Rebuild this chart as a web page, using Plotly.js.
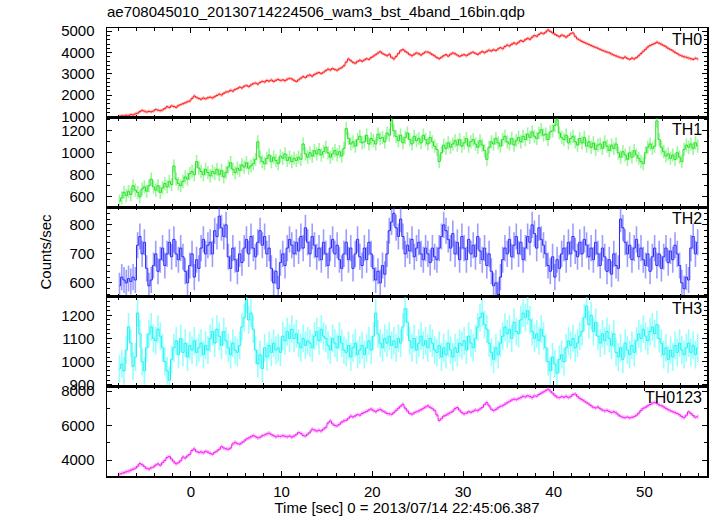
<!DOCTYPE html>
<html>
<head>
<meta charset="utf-8">
<script src="https://cdn.plot.ly/plotly-3.0.1.min.js"></script>
<style>html,body{margin:0;padding:0;background:#fff;}#chart{width:717px;height:516px;}</style>
</head>
<body>
<div id="chart"></div>
<script>
// ---- data (rates in counts/sec, 0.25 s bins) ----
const binStart = -7.875;
const binWidth = 0.25;
const bandNames = ["TH0", "TH1", "TH2", "TH3", "TH0123"];
const bandErrors = [80, 60, 45, 60, 120];

const th0 = [
1010,1040,1030,1060, 1050,1090,1070,1120, 1160,1230,1290,1250, 1210,1240,1220,1260,
1330,1300,1270,1310, 1380,1460,1420,1500, 1470,1430,1510,1560, 1600,1640,1690,1730,
1850,1960,1900,1840, 1810,1870,1830,1880, 1910,1870,1930,1990, 2050,2010,2090,2150,
2160,2230,2190,2270, 2310,2380,2340,2420, 2460,2400,2480,2540, 2570,2520,2600,2650,
2620,2690,2660,2710, 2640,2700,2740,2690, 2720,2680,2750,2790, 2760,2700,2640,2720,
2800,2870,2830,2910, 2950,2890,2970,3030, 3060,3010,3080,3150, 3220,3180,3250,3200,
3170,3240,3290,3380, 3550,3700,3620,3540, 3500,3580,3640,3590, 3650,3710,3680,3760,
3830,3900,3980,4040, 3960,3900,3850,3920, 3780,3700,3820,3950, 4080,4140,4060,3990,
3900,3850,3920,3980, 3940,3880,3960,4030, 4020,3980,3900,3840, 3760,3710,3780,3850,
3900,3830,3920,3980, 3940,3880,3820,3870, 3900,3850,3920,3980, 4020,3960,3910,3980,
4050,3990,4060,4110, 4070,4130,4090,4170, 4230,4180,4280,4350, 4310,4390,4450,4400,
4480,4560,4520,4600, 4670,4620,4720,4800, 4760,4850,4920,4880, 4960,5060,4990,4920,
4860,4800,4740,4820, 4780,4720,4800,4880, 4920,4760,4640,4580, 4520,4470,4420,4380,
4330,4280,4240,4200, 4150,4100,4060,4020, 3990,3930,3880,3840, 3800,3760,3730,3790,
3720,3680,3740,3700, 3760,3850,3950,4060, 4150,4260,4330,4380, 4420,4480,4440,4390,
4330,4270,4200,4140, 4080,4010,3950,3880, 3840,3800,3780,3740, 3710,3680,3730,3700
];

const th1 = [
560,590,640,610, 650,620,700,660, 640,600,670,690, 650,700,760,690,
660,700,640,680, 720,690,740,710, 880,760,720,700, 740,780,760,810,
830,800,920,860, 830,800,850,820, 790,830,810,850, 800,840,780,820,
870,910,850,820, 860,840,890,870, 910,860,880,900, 940,1100,960,920,
900,950,980,920, 960,930,900,970, 950,990,930,960, 920,950,930,960,
940,1080,990,960, 1000,970,1020,990, 1030,980,1010,1050, 1000,960,990,1020,
980,1010,970,1040, 1220,1130,1080,1100, 1060,1120,1150,1090, 1100,1160,1080,1130,
1110,1080,1170,1130, 1140,1100,1180,1160, 1300,1200,1150,1110, 1160,1090,1140,1180,
1120,1080,1150,1110, 1130,1090,1160,1120, 1080,1140,1100,1060, 1030,920,1000,1070,
1040,1090,1050,1080, 1110,1070,1120,1060, 1090,1130,1060,1100, 1120,1080,1050,1110,
1070,1020,940,1050, 1100,1080,1130,1090, 1060,1120,1150,1100, 1080,1130,1070,1110,
1140,1100,1150,1120, 1170,1140,1190,1150, 1130,1180,1210,1160, 1170,1120,1190,1200,
1250,1300,1180,1140, 1120,1160,1090,1130, 1150,1100,1070,1130, 1090,1140,1060,1100,
1050,1090,1030,1070, 1080,1040,1100,1060, 1020,1070,1040,1080, 1000,960,1010,980,
940,1000,960,1020, 980,950,920,900, 1000,1050,1080,1040, 1060,1290,1120,1050,
1010,970,990,950, 980,940,1000,960, 920,1030,1070,1050, 1080,1040,1090,1060
];

const th2 = [
590,620,610,600, 615,605,620,610, 730,760,700,740, 650,590,610,660,
700,640,680,720, 660,700,740,690, 750,700,680,720, 690,640,600,660,
700,620,680,650, 720,750,700,730, 740,700,780,760, 830,790,760,800,
690,650,720,680, 640,700,670,720, 750,700,760,720, 690,740,780,730,
760,700,720,650, 600,640,580,670, 700,660,720,750, 730,700,740,710,
760,720,790,740, 700,760,730,690, 720,680,740,700, 660,720,750,700,
730,680,650,700, 740,680,720,650, 700,750,690,660, 720,680,740,700,
650,610,640,600, 660,630,700,780, 810,840,790,760, 820,760,700,730,
710,750,690,720, 740,700,680,720, 700,670,720,690, 680,720,760,800,
780,750,720,770, 700,740,680,760, 720,680,750,700, 730,690,760,710,
680,720,660,700, 640,590,600,560, 620,680,720,700, 750,690,730,760,
700,740,680,720, 760,740,800,770, 720,790,750,730, 700,660,640,690,
620,680,650,700, 720,680,740,700, 760,710,690,740, 700,750,730,690,
720,680,740,700, 660,720,690,640, 680,630,700,660, 650,820,790,740,
700,730,680,720, 750,690,720,680, 660,700,640,690, 720,660,700,650,
690,720,670,710, 680,730,700,660, 600,580,620,610, 720,760,700,740
];

const th3 = [
970,990,960,1050, 1150,1080,980,1020, 1210,1120,1000,960, 1060,1120,1150,1100,
1090,1140,1110,1060, 1000,960,920,1010, 1060,1090,1030,1100, 1040,1080,1020,1070,
1050,1090,1040,1060, 1080,1030,1070,1050, 1100,1130,1080,1140, 1110,1070,1130,1090,
1060,1030,1080,1050, 1040,1070,1150,1190, 1270,1180,1210,1140, 1050,990,1030,970,
1060,1020,1070,1040, 1080,1050,1060,1040, 1110,1090,1130,1100, 1140,1100,1120,1080,
1060,1100,1070,1090, 1080,1060,1110,1130, 1090,1140,1110,1100, 1070,1050,1100,1080,
1060,1110,1080,1050, 1040,1070,1020,1060, 1080,1030,1050,1070, 1030,1060,1090,1050,
1110,1210,1120,1080, 1060,1100,1080,1110, 1070,1090,1060,1100, 1080,1150,1230,1170,
1090,1060,1100,1050, 1080,1110,1070,1090, 1060,1100,1080,1050, 1040,1070,1020,1060,
1030,1080,1050,1020, 1060,1040,1080,1070, 1090,1050,1110,1080, 1060,1100,1150,1190,
1210,1160,1140,1080, 1040,1010,1060,1030, 1080,1110,1150,1120, 1140,1100,1170,1130,
1120,1180,1210,1190, 1220,1180,1130,1100, 1120,1090,1140,1110, 1060,1000,960,1020,
990,950,1010,1030, 1000,1060,1090,1070, 1100,1060,1080,1110, 1130,1190,1240,1160,
1200,1130,1170,1110, 1080,1120,1090,1130, 1100,1070,1120,1040, 1020,1060,1010,1080,
1050,1030,1070,1040, 1090,1120,1100,1140, 1110,1090,1130,1150, 1120,1160,1100,1080,
1030,1060,1010,1050, 1020,1070,1040,1080, 1050,1030,1060,1080, 1040,1070,1030,1060
];

const th0123 = [
3180,3230,3270,3320, 3360,3420,3470,3530, 3650,3800,3740,3620, 3520,3480,3560,3600,
3720,3780,3700,3850, 3980,4150,4210,4060, 3900,3790,3850,3970, 4180,4120,4240,4330,
4560,4650,4500,4440, 4480,4420,4510,4460, 4390,4340,4450,4520, 4620,4780,4700,4660,
4620,4700,4940,5030, 4960,4920,5010,5100, 5220,5280,5350,5420, 5360,5290,5320,5410,
5460,5520,5560,5480, 5410,5350,5400,5370, 5420,5380,5350,5400, 5330,5390,5480,5600,
5550,5430,5390,5500, 5620,5790,5740,5680, 5730,5680,5800,5900, 6150,6270,6100,6000,
5980,6070,6200,6270, 6300,6420,6550,6500, 6560,6640,6600,6700, 6760,6820,6900,6960,
6870,6800,6890,6940, 6850,6790,6700,6680, 6650,6750,6880,7000, 7120,7230,7010,6850,
6700,6660,6740,6800, 6850,6920,7000,7080, 7140,7060,6980,6870, 6620,6300,6400,6550,
6600,6680,6750,6830, 6980,7050,6900,6750, 6680,6720,6810,6770, 6830,6900,6870,6960,
7050,7220,7330,7150, 6950,6870,6940,7030, 7110,7150,7240,7320, 7400,7480,7530,7500,
7560,7620,7700,7660, 7730,7680,7620,7720, 7700,7800,7880,7950, 8020,8110,8000,7880,
7750,7650,7620,7680, 7640,7700,7620,7680, 7800,7830,7690,7580, 7500,7420,7330,7250,
7150,7060,7020,7080, 6980,6900,6850,6880, 6820,6760,6800,6740, 6620,6540,6480,6460,
6500,6440,6480,6520, 6600,6720,6880,7000, 7060,7150,7220,7300, 7340,7280,7200,7150,
7080,7000,6920,6860, 6800,6750,6700,6620, 6520,6460,6600,6800, 6700,6580,6480,6520
];

const series = [th0, th1, th2, th3, th0123];
const time = th0.map((_, i) => binStart + i * binWidth);

// ---- styling ----
const FONT = "Liberation Sans, Arial, Helvetica, sans-serif";
const lineColors = ["#ff1a1a", "#22e022", "#2a2aff", "#22f0f0", "#f020f0"];
const errColors = ["rgba(255,60,60,0.45)", "rgba(60,240,60,0.5)", "rgba(60,60,255,0.5)", "rgba(60,255,255,0.55)", "rgba(255,60,255,0.45)"];
const yRanges = [[950, 5150], [505, 1320], [552, 861], [893, 1280], [3080, 8270]];
const yDticks = [1000, 200, 100, 100, 2000];
const yMinor = [200, 100, 20, 20, 1000];
const xRange = [-9.25, 56.9];

const traces = [];
const layout = {
  width: 717, height: 516,
  margin: {l: 107, r: 10, t: 28, b: 40, pad: 0},
  paper_bgcolor: "#fff", plot_bgcolor: "#fff",
  showlegend: false,
  font: {family: FONT, size: 15, color: "#000"},
  title: {
    text: "ae708045010_20130714224506_wam3_bst_4band_16bin.qdp",
    font: {family: FONT, size: 15, color: "#000"},
    xref: "container", yref: "container",
    x: 107 / 717, xanchor: "left", y: 1 - 12 / 516, yanchor: "middle"
  },
  annotations: []
};

for (let i = 0; i < 5; i++) {
  const n = i + 1;
  const xa = n === 1 ? "x" : "x" + n;
  const ya = n === 1 ? "y" : "y" + n;
  traces.push({
    type: "scatter", mode: "lines",
    x: time, y: series[i],
    xaxis: xa, yaxis: ya,
    line: {color: lineColors[i], width: 1, shape: "hvh"},
    error_y: {type: "constant", value: bandErrors[i], visible: true, color: errColors[i], thickness: 1.6, width: 0},
    hoverinfo: "skip"
  });
  const top = 1 - 0.2 * i, bottom = 1 - 0.2 * (i + 1);
  layout["xaxis" + (n === 1 ? "" : n)] = {
    domain: [0, 1], anchor: ya, range: xRange,
    showline: true, linecolor: "#000", linewidth: 1.5, mirror: "ticks",
    ticks: "inside", ticklen: 5, tickwidth: 1, tickcolor: "#000",
    tick0: 0, dtick: 10,
    minor: {dtick: 2, ticklen: 3, ticks: "inside", tickcolor: "#000", tickwidth: 1, showgrid: false},
    showgrid: false, zeroline: false,
    showticklabels: n === 5,
    ticklabelstandoff: 1,
    tickfont: {family: FONT, size: 15, color: "#000"},
    title: n === 5 ? {text: "Time [sec] 0 = 2013/07/14 22:45:06.387", font: {family: FONT, size: 15, color: "#000"}, standoff: 6} : {text: ""}
  };
  layout["yaxis" + (n === 1 ? "" : n)] = {
    domain: [bottom, top], anchor: xa, range: yRanges[i],
    showline: true, linecolor: "#000", linewidth: 1.5, mirror: "ticks",
    ticks: "inside", ticklen: 5, tickwidth: 1, tickcolor: "#000",
    tick0: 0, dtick: yDticks[i],
    minor: {dtick: yMinor[i], ticklen: 3, ticks: "inside", tickcolor: "#000", tickwidth: 1, showgrid: false},
    showgrid: false, zeroline: false,
    ticklabelstandoff: 8,
    tickfont: {family: FONT, size: 15, color: "#000"},
    title: n === 3 ? {text: "Counts/sec", font: {family: FONT, size: 15, color: "#000"}, standoff: 14} : {text: ""}
  };
  layout.annotations.push({
    text: bandNames[i], showarrow: false,
    xref: xa + " domain", yref: ya + " domain",
    x: 0.995, xanchor: "right", y: 1, yanchor: "top", yshift: -1,
    font: {family: FONT, size: 16, color: "#000"}
  });
}

Plotly.newPlot("chart", traces, layout, {staticPlot: true, displayModeBar: false});
</script>
</body>
</html>
